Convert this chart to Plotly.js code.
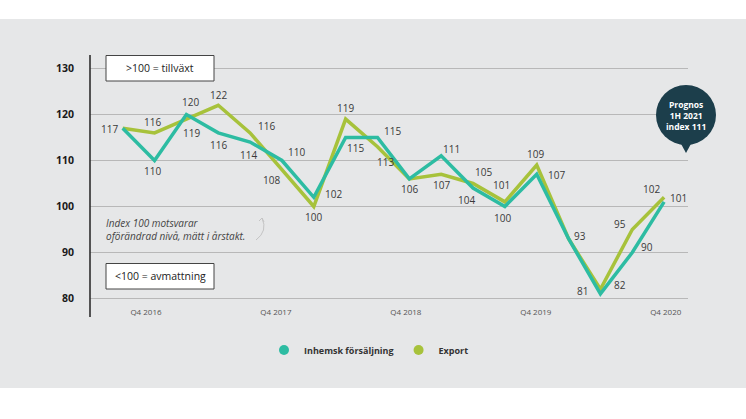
<!DOCTYPE html>
<html>
<head>
<meta charset="utf-8">
<script src="https://cdn.plot.ly/plotly-3.0.1.min.js"></script>
<style>html,body{margin:0;padding:0;background:#fff;}#chart{width:746px;height:419px;}</style>
</head>
<body>
<div id="chart"></div>
<script>
// ---- data ----
const quarters = ["Q3 2016","Q4 2016","Q1 2017","Q2 2017","Q3 2017","Q4 2017","Q1 2018","Q2 2018","Q3 2018","Q4 2018","Q1 2019","Q2 2019","Q3 2019","Q4 2019","Q1 2020","Q2 2020","Q3 2020","Q4 2020"];
const inhemsk = [117,110,120,116,114,110,102,115,115,106,111,104,100,107,93,81,90,101];
const exportVals = [117,116,119,122,116,108,100,119,113,106,107,105,101,109,93,82,95,102];
const tickLabels = ["Q4 2016","Q4 2017","Q4 2018","Q4 2019","Q4 2020"];
const seriesNames = ["Inhemsk försäljning","Export"];

// ---- style / placement ----
const teal = "#2dbca2", green = "#a7c23b", bg = "#e6e7e8";
const idx = quarters.map((q,i)=>i);
const tickPos = [0.73, 4.81, 8.89, 12.97, 17.05];
// label offsets in px [dx, dy(down)], null = no label
const inhOff = [[-13,1],[-2,11],[4,-12],[0,12],[-2,13],[15,-8],[20,-3],[10,11],[15,-6],[0,10],[10,-7],[-7,12],[-2,12],[20,1],[11,-3],[-18,-3],[15,-6],[14,-4]];
const expOff = [null,[-2,-11],[5,14],[0,-10],[16,-7],[-10,10],[0,11],[0,-11],[8,15],null,[0,11],[10,-11],[-3,-17],[-1,-11],null,[20,-4],[-12,-5],[-13,-8]];

const L=90, R=688, T=55, B=306;
const px = x => (x-L)/(R-L);
const py = y => (B-y)/(B-T);
const font = "Open Sans, sans-serif";

const traces = [
  {x: idx, y: exportVals, mode:"lines", line:{color:green,width:3.5}, showlegend:false, hoverinfo:"skip"},
  {x: idx, y: inhemsk, mode:"lines", line:{color:teal,width:3.5}, showlegend:false, hoverinfo:"skip"},
  {x:[null], y:[null], mode:"markers", name:seriesNames[0], marker:{color:teal,size:10}},
  {x:[null], y:[null], mode:"markers", name:seriesNames[1], marker:{color:green,size:10}}
];

const annotations = [];
function addLabels(vals, offs){
  vals.forEach((v,i)=>{
    const o = offs[i]; if(!o) return;
    annotations.push({x:idx[i], y:v, xref:"x", yref:"y", text:String(v), showarrow:false,
      xanchor:"center", yanchor:"middle",
      xshift:o[0], yshift:-o[1], font:{family:font,size:10,color:"#3a3a3a"}});
  });
}
addLabels(exportVals, expOff);
addLabels(inhemsk, inhOff);

annotations.push(
  {xref:"paper",yref:"paper",x:px(160),y:py(68),xanchor:"center",yanchor:"middle",text:">100 = tillväxt",showarrow:false,font:{family:font,size:10.5,color:"#222"}},
  {xref:"paper",yref:"paper",x:px(160),y:py(276),xanchor:"center",yanchor:"middle",text:"<100 = avmattning",showarrow:false,font:{family:font,size:10.5,color:"#222"}},
  {xref:"paper",yref:"paper",x:px(104),y:py(229.5),xanchor:"left",yanchor:"middle",align:"left",showarrow:false,
   text:"<i>Index 100 motsvarar<br>oförändrad nivå, mätt i årstakt.</i>",font:{family:font,size:10,color:"#444"}},
  {xref:"paper",yref:"paper",x:px(686),y:py(115),xanchor:"center",yanchor:"middle",showarrow:false,
   text:"<b>Prognos<br>1H 2021<br>index 111</b>",font:{family:font,size:8.5,color:"#fff"}}
);

const shapes = [
  {type:"rect",xref:"paper",yref:"paper",x0:px(-5),x1:px(751),y0:py(19),y1:py(-5),fillcolor:"#fff",line:{width:0},layer:"below"},
  {type:"rect",xref:"paper",yref:"paper",x0:px(-5),x1:px(751),y0:py(425),y1:py(388),fillcolor:"#fff",line:{width:0},layer:"below"},
  {type:"line",xref:"paper",yref:"paper",x0:0,x1:0,y0:py(317),y1:py(55),line:{color:"#222",width:1.5}},
  {type:"rect",xref:"paper",yref:"paper",x0:px(106),x1:px(214),y0:py(81),y1:py(55.5),fillcolor:"#fff",line:{color:"#444",width:1}},
  {type:"rect",xref:"paper",yref:"paper",x0:px(106),x1:px(214),y0:py(289),y1:py(263.5),fillcolor:"#fff",line:{color:"#444",width:1}},
  {type:"circle",xref:"paper",yref:"paper",x0:px(656),x1:px(716),y0:py(145),y1:py(85),fillcolor:"#1c3e4b",line:{width:0}},
  {type:"path",xref:"paper",yref:"paper",path:`M ${px(680)} ${py(142)} L ${px(686)} ${py(153)} L ${px(692)} ${py(142)} Z`,fillcolor:"#1c3e4b",line:{width:0}},
  {type:"path",xref:"paper",yref:"paper",path:`M ${px(256)} ${py(240)} Q ${px(268)} ${py(231)} ${px(262)} ${py(218)}`,line:{color:"#c4c4c4",width:1}},
  {type:"path",xref:"paper",yref:"paper",path:`M ${px(259)} ${py(221)} L ${px(262)} ${py(218)} L ${px(264)} ${py(222)}`,line:{color:"#c4c4c4",width:1}}
];

const layout = {
  width:746, height:419,
  margin:{l:L, r:746-R, t:T, b:419-B, pad:0},
  paper_bgcolor:bg, plot_bgcolor:bg,
  font:{family:font},
  xaxis:{range:[-1.027,17.75], showgrid:false, zeroline:false, showline:false,
    tickmode:"array", tickvals:tickPos, ticktext:tickLabels, ticks:"",
    tickfont:{family:font,size:8,color:"#555"}, fixedrange:true},
  yaxis:{range:[78.37,132.93], tickvals:[80,90,100,110,120,130], showgrid:true, gridcolor:"#b8b8b8", gridwidth:1,
    zeroline:false, showline:false, ticks:"", ticklabelstandoff:15,
    tickfont:{family:font,size:10.5,color:"#1a1a1a",weight:700}, fixedrange:true},
  showlegend:true,
  legend:{orientation:"h", x:px(264), xanchor:"left", y:py(350), yanchor:"middle",
    bgcolor:"rgba(0,0,0,0)", font:{family:font,size:9,color:"#333",weight:700}},
  shapes:shapes, annotations:annotations
};

Plotly.newPlot("chart", traces, layout, {staticPlot:true, displayModeBar:false});
</script>
</body>
</html>
